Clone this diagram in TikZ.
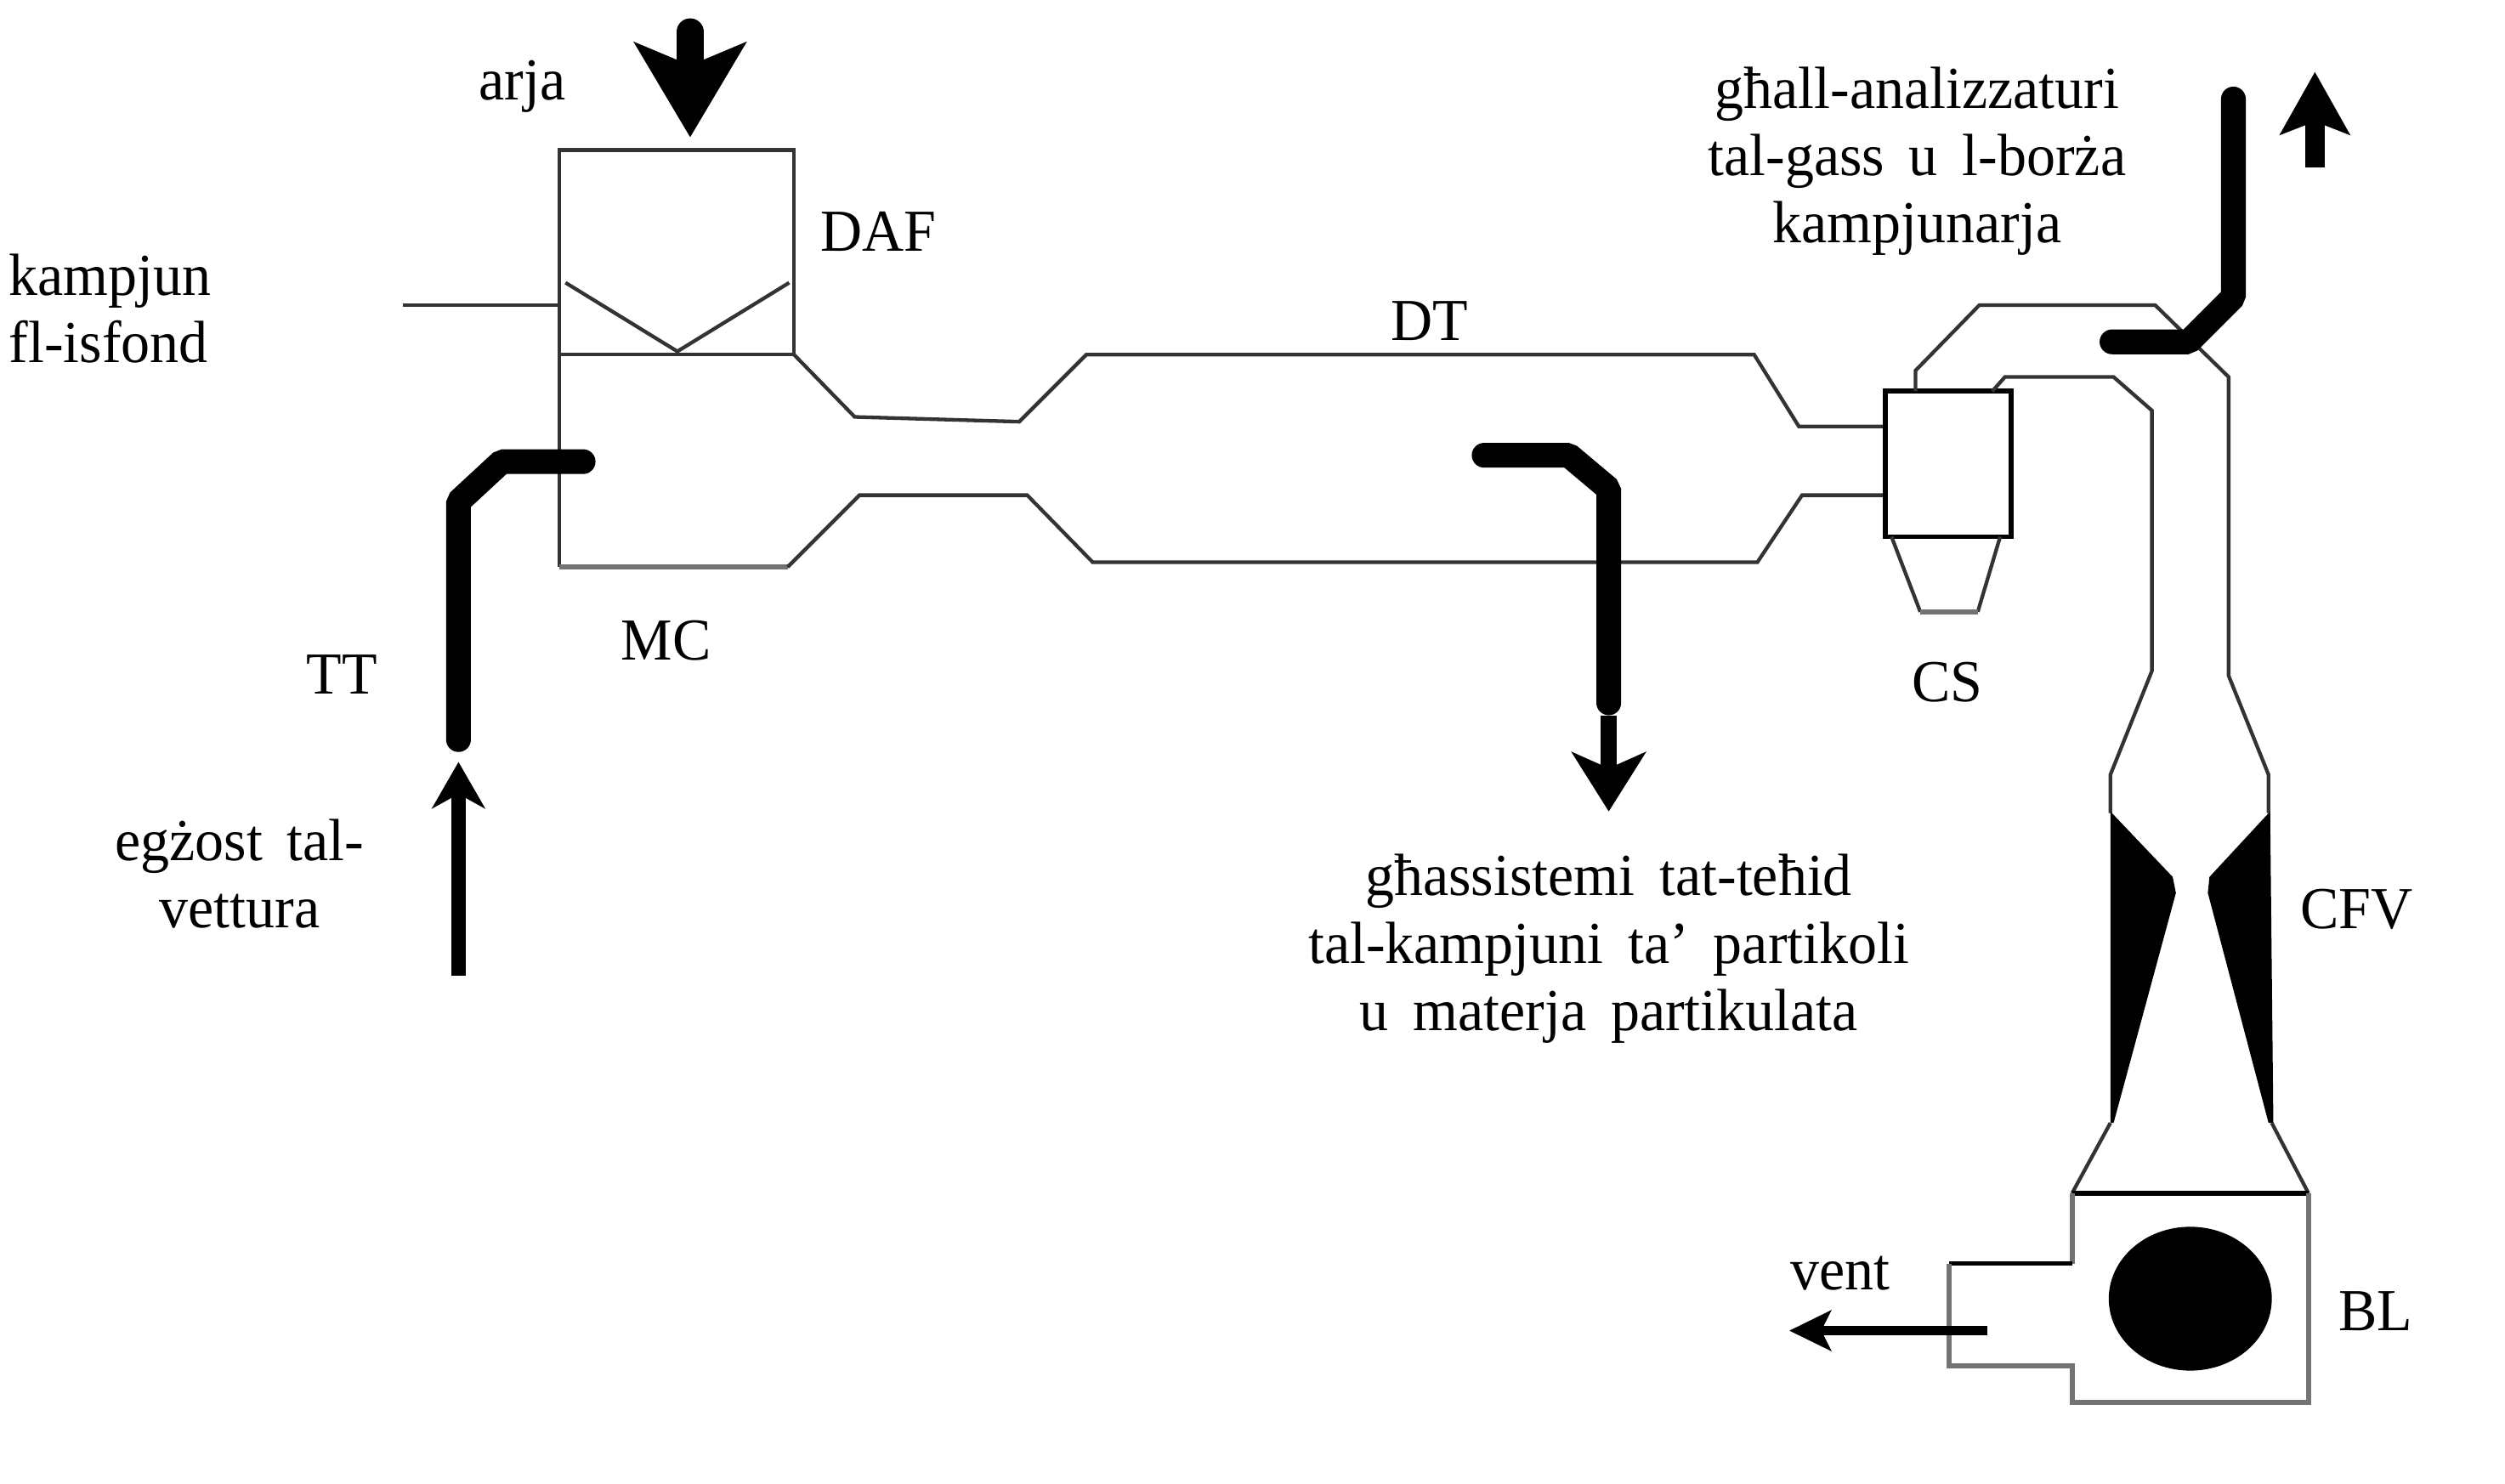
\documentclass[tikz,border=0pt]{standalone}
\usepackage{fontspec}
\setmainfont{Liberation Serif}[WordSpace=1.7, FakeStretch=0.97]
\usetikzlibrary{arrows.meta}
\tikzset{
    duct/.style={line width=0.65pt, black!80, line join=miter},
    paleduct/.style={line width=0.9pt, black!55},
    pipe/.style={line width=0.155cm, line cap=round, line join=bevel},
    lbl/.style={font=\fontsize{10.6}{12}\selectfont, align=center, inner sep=0pt}
}
\begin{document}
\begin{tikzpicture}[x=0.01cm, y=-0.01cm]
    \useasboundingbox (0,0) rectangle (1568,928.5);

    % Mixing chamber and filter
    \draw[duct] (350,222) -- (350,94) -- (497,94) -- (497,222) -- cycle;
    \draw[duct] (354,177) -- (424,220) -- (494,177);
    \draw[duct] (252,191) -- (350,191);
    \draw[duct] (350,222) -- (350,355);
    \draw[paleduct] (350,355) -- (493,355);

    % Dilution tunnel
    \draw[duct] (497,222) -- (535,261) -- (638,264) -- (680,222) -- (1098,222) -- (1126,267) -- (1180,267);
    \draw[duct] (493,355) -- (538,310) -- (643,310) -- (684,352) -- (1100,352) -- (1128,310) -- (1180,310);

    % Cyclone
    \draw[line width=0.9pt] (1180,245) rectangle (1259,336);
    \draw[duct] (1184,336) -- (1202,383);
    \draw[duct] (1252,336) -- (1238,383);
    \draw[paleduct] (1202,383) -- (1238,383);

    % Duct up to the venturi
    \draw[duct] (1199,245) -- (1199,232) -- (1239,191) -- (1349,191) -- (1395,236) -- (1395,423) -- (1420,485) -- (1420,509);
    \draw[duct] (1247,245) -- (1255,236) -- (1323,236) -- (1347,257) -- (1347,420) -- (1321,485) -- (1321,509);

    % Venturi
    \fill (1321,508) -- (1360,549) -- (1362,559) -- (1323,703) -- (1321,703) -- cycle;
    \fill (1421,508) -- (1383,549) -- (1382,559) -- (1420,703) -- (1423,703) -- cycle;
    \draw[duct] (1321,703) -- (1297,747);
    \draw[duct] (1422,703) -- (1445,747);

    % Blower
    \draw[line width=0.8pt] (1297,747) -- (1445,747);
    \draw[paleduct] (1297,747) -- (1297,791);
    \draw[line width=0.8pt] (1297,791) -- (1220,791);
    \draw[paleduct] (1220,791) -- (1220,855) -- (1297,855) -- (1297,878) -- (1445,878) -- (1445,747);
    \fill (1371,813) ellipse [x radius=0.51cm, y radius=0.45cm];

    % Thick pipes
    \draw[pipe] (287,463) -- (287,314) -- (314,289) -- (365,289);
    \draw[pipe] (929,285) -- (982,285) -- (1007,306) -- (1007,440);
    \draw[pipe] (1398,62) -- (1398,186) -- (1370,214) -- (1322,214);

    % Flow arrows
    \draw[line width=0.17cm, line cap=round, -{Stealth[length=0.59cm, width=0.69cm, inset=0.14cm]}] (432,20) -- (432,86);
    \draw[line width=0.09cm, -{Stealth[length=0.29cm, width=0.33cm, inset=0.09cm]}] (287,611) -- (287,477);
    \draw[line width=0.1cm, -{Stealth[length=0.37cm, width=0.46cm, inset=0.1cm]}] (1007,448) -- (1007,508);
    \draw[line width=0.12cm, -{Stealth[length=0.39cm, width=0.43cm, inset=0.08cm]}] (1449,105) -- (1449,45);
    \draw[line width=0.06cm, -{Stealth[length=0.26cm, width=0.25cm, inset=0.06cm]}] (1244,833) -- (1120,833);

    % Labels
    \node[lbl] (arja) at (327,54) {arja};
    \node[lbl] (daf) at (550,145) {DAF};
    \node[lbl, align=left, anchor=west] (kampjun) at (5,193) {kampjun\\fl-isfond};
    \node[lbl] (dt) at (895,201) {DT};
    \node[lbl] (mc) at (417,401) {MC};
    \node[lbl] (tt) at (214,422) {TT};
    \node[lbl] (egzost) at (150,547) {egżost tal-\\vettura};
    \node[lbl] (sistemi) at (1007,594) {għassistemi tat-teħid\\tal-kampjuni ta’ partikoli\\u materja partikulata};
    \node[lbl] (analizzaturi) at (1200,101) {għall-analizzaturi\\tal-gass u l-borża\\kampjunarja};
    \node[lbl] (cs) at (1219,427) {CS};
    \node[lbl] (cfv) at (1475,569) {CFV};
    \node[lbl] (vent) at (1152,797) {vent};
    \node[lbl] (bl) at (1487,821) {BL};
\end{tikzpicture}
\end{document}
